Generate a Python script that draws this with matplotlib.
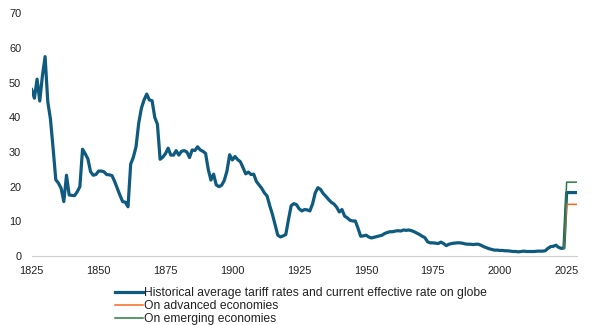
import matplotlib
matplotlib.use("Agg")
import matplotlib.pyplot as plt

plt.rcParams['font.family'] = ['Liberation Sans', 'DejaVu Sans']

# historical average tariff rate, one value per year 1825-2024
years = list(range(1825, 2025))
tariff = [
    48, 45.5, 51, 44.7, 52, 57.5, 44.5, 39.5, 31, 22,            # 1825-1834
    21, 19.5, 15.7, 23.3, 17.6, 17.5, 17.4, 18.5, 20, 30.8,      # 1835-1844
    29.5, 28, 24.3, 23.3, 23.5, 24.5, 24.5, 24.3, 23.5, 23.4,    # 1845-1854
    23.2, 21.5, 19.5, 17.5, 15.7, 15.5, 14.2, 26.5, 28.5, 31.5,  # 1855-1864
    38.3, 42.6, 45, 46.7, 45, 44.8, 40, 38, 27.9, 28.5,          # 1865-1874
    29.5, 31.1, 29.1, 29.1, 30.4, 29.1, 30.2, 30.4, 30, 28.4,    # 1875-1884
    30.6, 30.4, 31.5, 30.6, 30.2, 29.6, 25, 21.9, 23.6, 20.5,    # 1885-1894
    20, 20.4, 21.8, 24.5, 29.2, 27.7, 28.7, 27.8, 27.2, 25.5,    # 1895-1904
    23.7, 24.2, 23.5, 23.6, 21.5, 20.5, 19.5, 18.2, 17.3, 14.5,  # 1905-1914
    12, 9, 6, 5.5, 5.8, 6.2, 10.5, 14.5, 15.1, 14.8,             # 1915-1924
    13.6, 13, 13.4, 13.3, 13, 15, 18.2, 19.7, 19.2, 18,          # 1925-1934
    17.2, 16.3, 15.5, 15, 14.1, 12.7, 13.4, 11.5, 11, 10.3,      # 1935-1944
    10.1, 10.1, 8, 5.7, 5.8, 6, 5.5, 5.2, 5.4, 5.6,              # 1945-1954
    5.8, 6, 6.5, 6.8, 7, 7, 7.2, 7.3, 7.2, 7.5,                  # 1955-1964
    7.4, 7.5, 7.3, 7, 6.6, 6.2, 5.7, 5.3, 4.1, 3.8,              # 1965-1974
    3.8, 3.7, 3.6, 4, 3.6, 3, 3.4, 3.6, 3.7, 3.8,                # 1975-1984
    3.8, 3.7, 3.5, 3.4, 3.4, 3.3, 3.4, 3.4, 3.1, 2.7,            # 1985-1994
    2.4, 2.1, 1.9, 1.7, 1.7, 1.6, 1.6, 1.5, 1.5, 1.4,            # 1995-2004
    1.3, 1.3, 1.2, 1.3, 1.4, 1.3, 1.3, 1.3, 1.3, 1.4,            # 2005-2014
    1.4, 1.4, 1.5, 2.2, 2.7, 2.8, 3.1, 2.5, 2.2, 2.3,            # 2015-2024
]

# current effective rates (2025) carried to the end of the axis
cur_years = [2024, 2025, 2029]
globe_cur = [2.3, 18.3, 18.3]
advanced = [2.3, 14.9, 14.9]
emerging = [2.3, 21.3, 21.3]

blue = '#0F5B7F'
orange = '#F26B1D'
green = '#2E7A42'

fig = plt.figure(figsize=(6.02, 3.25), dpi=100)
ax = fig.add_axes([0.0527, 0.2123, 0.9063, 0.7468])

ax.plot(years + cur_years[1:], tariff + globe_cur[1:], color=blue, lw=2.3,
        solid_joinstyle='round',
        label='Historical average tariff rates and current effective rate on globe')
ax.plot(cur_years, advanced, color=orange, lw=1.1, label='On advanced economies')
ax.plot(cur_years, emerging, color=green, lw=1.1, label='On emerging economies')

ax.set_xlim(1825, 2029)
ax.set_ylim(0, 70)
ax.set_xticks(range(1825, 2026, 25))
ax.set_yticks(range(0, 71, 10))
ax.tick_params(axis='both', length=0, labelsize=7.9, colors='#222222')
ax.tick_params(axis='x', pad=7.5)
ax.tick_params(axis='y', pad=7.5)

for s in ['top', 'right', 'left']:
    ax.spines[s].set_visible(False)
ax.spines['bottom'].set_color('#D0D0D0')
ax.spines['bottom'].set_linewidth(0.8)

fig.legend(loc='upper center', bbox_to_anchor=(0.5, 0.117), ncol=1,
           frameon=False, fontsize=8.7, handlelength=2.3, handletextpad=0.1,
           labelspacing=0.08, borderpad=0, borderaxespad=0,
           labelcolor='#222222')

fig.savefig('out.png', dpi=100)
